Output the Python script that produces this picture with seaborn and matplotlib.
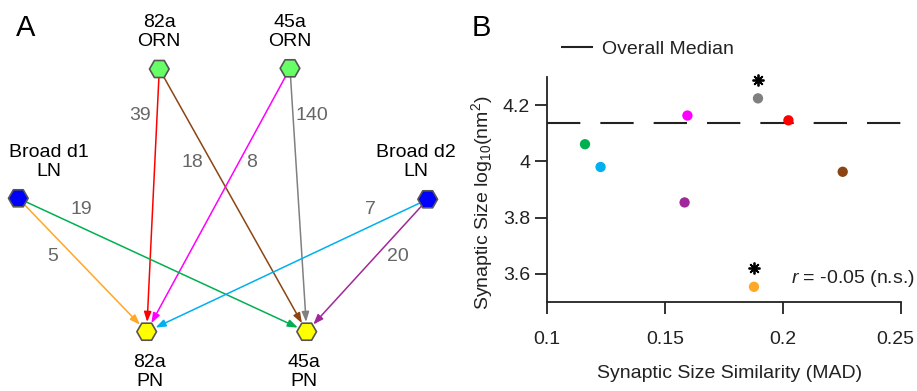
import matplotlib
matplotlib.use("Agg")
import matplotlib.pyplot as plt
import matplotlib.transforms as mtransforms
import seaborn as sns
import pandas as pd

# ---------------- data ----------------
edge_src = ["82a ORN", "82a ORN", "45a ORN", "45a ORN",
            "Broad d1 LN", "Broad d1 LN", "Broad d2 LN", "Broad d2 LN"]
edge_dst = ["82a PN", "45a PN", "82a PN", "45a PN",
            "82a PN", "45a PN", "82a PN", "45a PN"]
edge_counts = [39, 18, 8, 140, 5, 19, 7, 20]
edge_colors = ["#FF0000", "#8B4513", "#FF00FF", "#808080",
               "#FFA726", "#00B050", "#00B0F0", "#A0289A"]
mad_values = [0.2023, 0.2253, 0.1595, 0.1894, 0.1877, 0.1161, 0.1227, 0.1583]
log_size = [4.146, 3.963, 4.163, 4.224, 3.554, 4.061, 3.980, 3.854]
significant = [False, False, False, True, True, False, False, False]
overall_median = 4.137

node_names = ["82a ORN", "45a ORN", "Broad d1 LN", "Broad d2 LN", "82a PN", "45a PN"]
node_labels = ["82a\nORN", "45a\nORN", "Broad d1\nLN", "Broad d2\nLN", "82a\nPN", "45a\nPN"]
node_types = ["ORN", "ORN", "LN", "LN", "PN", "PN"]
node_type_colors = {"ORN": "#66FF66", "LN": "#0000FF", "PN": "#FFFF00"}

x_ticks = [0.1, 0.15, 0.2, 0.25]
x_tick_labels = ["0.1", "0.15", "0.2", "0.25"]
y_ticks = [3.6, 3.8, 4.0, 4.2]
y_tick_labels = ["3.6", "3.8", "4", "4.2"]

# ---------------- layout (panel A drawing units) ----------------
node_xy = {"82a ORN": (159.3, 69.0), "45a ORN": (290.0, 68.3),
           "Broad d1 LN": (18.3, 198.3), "Broad d2 LN": (427.7, 199.3),
           "82a PN": (146.7, 331.7), "45a PN": (306.7, 331.7)}
node_label_xy = {"82a ORN": (159.0, 32.0), "45a ORN": (290.0, 32.0),
                 "Broad d1 LN": (49.0, 161.7), "Broad d2 LN": (416.0, 161.7),
                 "82a PN": (150.0, 372.0), "45a PN": (304.0, 372.0)}
edge_label_xy = [(140.0, 115.0), (192.7, 162.7), (251.7, 162.7), (311.7, 115.0),
                 (52.3, 256.7), (81.7, 209.3), (370.0, 209.3), (397.7, 256.7)]

# ---------------- style ----------------
sns.set_theme(style="white")
plt.rcParams["font.family"] = ["Liberation Sans", "DejaVu Sans"]
plt.rcParams["mathtext.fontset"] = "custom"
plt.rcParams["mathtext.rm"] = "Liberation Sans"
plt.rcParams["mathtext.it"] = "Liberation Sans:italic"
plt.rcParams["lines.scale_dashes"] = False
FS = 14
INK = "#222222"

W, H = 917, 391
fig = plt.figure(figsize=(W / 100, H / 100), dpi=100)

# ================= Panel A =================
axA = fig.add_axes([0, 0, 460 / W, 1])

for s, d, n, c, (lx, ly) in zip(edge_src, edge_dst, edge_counts, edge_colors, edge_label_xy):
    axA.annotate("", xy=node_xy[d], xytext=node_xy[s],
                 arrowprops=dict(arrowstyle="-|>,head_length=0.6,head_width=0.22",
                                 mutation_scale=10, color=c, lw=1.1,
                                 shrinkA=0, shrinkB=7), zorder=2)
    axA.text(lx, ly, str(n), color="#666666", fontsize=FS, ha="center", va="center")

nodes_df = pd.DataFrame({"name": node_names, "type": node_types,
                         "x": [node_xy[n][0] for n in node_names],
                         "y": [node_xy[n][1] for n in node_names]})
sns.scatterplot(data=nodes_df, x="x", y="y", hue="type", palette=node_type_colors,
                marker="H", s=200, edgecolor="#555555", linewidth=1.2,
                legend=False, ax=axA, zorder=5, clip_on=False)
axA.set_xlim(0, 460)
axA.set_ylim(H, 0)
axA.axis("off")

for n, lab in zip(node_names, node_labels):
    axA.text(*node_label_xy[n], lab, fontsize=FS, ha="center", va="center",
             multialignment="center", color="black", linespacing=1.15)

fig.text(16 / W, 1 - 28 / H, "A", fontsize=21, ha="left", va="center", color="black")
fig.text(472 / W, 1 - 28 / H, "B", fontsize=21, ha="left", va="center", color="black")

# ================= Panel B =================
left, right, top, bottom = 547, 901, 77, 302
axB = fig.add_axes([left / W, 1 - bottom / H, (right - left) / W, (bottom - top) / H])

axB.axhline(overall_median, color=INK, lw=1.5, dashes=(24, 14.4), zorder=1,
            label="Overall Median")

scat_df = pd.DataFrame({"mad": mad_values, "size": log_size,
                        "edge": [f"{s}->{d}" for s, d in zip(edge_src, edge_dst)]})
pal = {e: c for e, c in zip(scat_df["edge"], edge_colors)}
sns.scatterplot(data=scat_df, x="mad", y="size", hue="edge", palette=pal, s=55,
                linewidth=0, legend=False, ax=axB, zorder=3, clip_on=False)

star_tr = mtransforms.offset_copy(axB.transData, fig=fig, x=0, y=13.5, units="points")
for xv, yv, sig in zip(mad_values, log_size, significant):
    if sig:
        axB.plot([xv], [yv], marker=(8, 2, 0), ms=8.5, mew=1.3, color="black",
                 transform=star_tr, clip_on=False, zorder=4)

axB.set_xlim(0.1, 0.25)
axB.set_ylim(3.5, 4.3)
axB.set_xticks(x_ticks)
axB.set_xticklabels(x_tick_labels)
axB.set_yticks(y_ticks)
axB.set_yticklabels(y_tick_labels)
for sp in ["top", "right"]:
    axB.spines[sp].set_visible(False)
for sp in ["left", "bottom"]:
    axB.spines[sp].set_color(INK)
    axB.spines[sp].set_linewidth(1.3)
axB.tick_params(axis="both", direction="out", length=8.6, width=1.3, color=INK,
                labelsize=FS, labelcolor=INK, left=True, bottom=True)
axB.tick_params(axis="x", pad=12.5)
axB.tick_params(axis="y", pad=3.5)

# keep the last x tick label inside the figure edge
last_lab = axB.get_xticklabels()[-1]
last_lab.set_transform(last_lab.get_transform() +
                       mtransforms.ScaledTranslation(-4 / 72, 0, fig.dpi_scale_trans))

axB.set_xlabel("Synaptic Size Similarity (MAD)", fontsize=FS, color=INK)
axB.set_ylabel(r"Synaptic Size log$_{10}$(nm$^2$)", fontsize=FS, color=INK)
axB.xaxis.set_label_coords(0.516, -0.28)
axB.yaxis.set_label_coords(-0.147, 0.44)

axB.text(1.04, 0.105, r"$r$ = -0.05 (n.s.)", transform=axB.transAxes,
         fontsize=FS, ha="right", va="center", color=INK)

leg = axB.legend(loc="center left", bbox_to_anchor=(0.04, 1.124), frameon=False,
                 fontsize=FS, handlelength=1.64, handletextpad=0.46,
                 borderpad=0, borderaxespad=0)
for t in leg.get_texts():
    t.set_color(INK)

fig.savefig("out.png", dpi=100)
